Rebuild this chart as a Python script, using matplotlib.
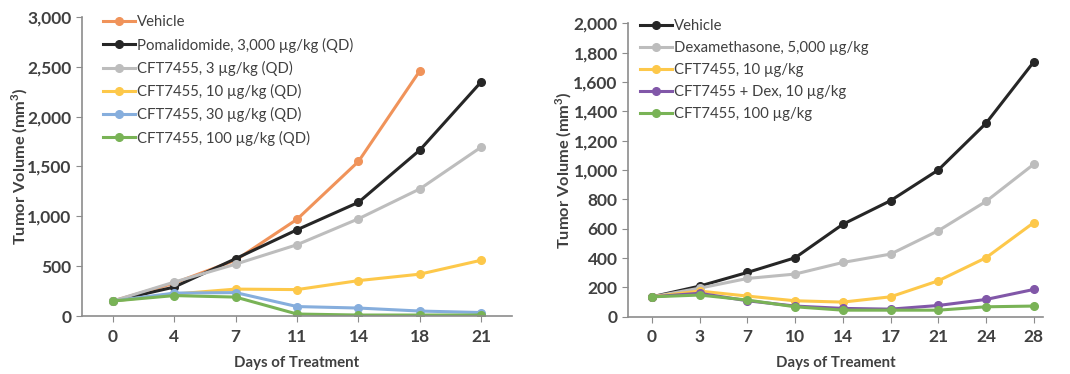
import numpy as np
import matplotlib
matplotlib.use("Agg")
import matplotlib.pyplot as plt
from matplotlib.ticker import FuncFormatter

plt.rcParams['font.family'] = ['Lato', 'DejaVu Sans']

# left panel
days_a = ["0", "4", "7", "11", "14", "18", "21"]
vehicle_a = [150, 330, 560, 970, 1550, 2460]
pomalidomide = [150, 290, 575, 865, 1140, 1665, 2350]
cft_3 = [150, 340, 520, 715, 975, 1275, 1695]
cft_10a = [150, 220, 270, 265, 355, 420, 560]
cft_30 = [150, 230, 235, 95, 80, 50, 35]
cft_100a = [150, 205, 190, 20, 10, 10, 10]

# right panel
days_b = ["0", "3", "7", "10", "14", "17", "21", "24", "28"]
vehicle_b = [136, 209, 302, 402, 630, 791, 1000, 1318, 1736]
dexamethasone = [136, 195, 261, 291, 370, 427, 586, 786, 1039]
cft_10b = [136, 175, 141, 109, 100, 136, 245, 402, 641]
cft_dex = [136, 160, 109, 73, 57, 52, 77, 118, 186]
cft_100b = [136, 148, 114, 68, 45, 45, 45, 68, 73]

series_a = [
    ("Vehicle", vehicle_a, "#F0935A"),
    ("Pomalidomide, 3,000 µg/kg (QD)", pomalidomide, "#262626"),
    ("CFT7455, 3 µg/kg (QD)", cft_3, "#BDBDBD"),
    ("CFT7455, 10 µg/kg (QD)", cft_10a, "#FDC84A"),
    ("CFT7455, 30 µg/kg (QD)", cft_30, "#86AEDD"),
    ("CFT7455, 100 µg/kg (QD)", cft_100a, "#79B356"),
]
series_b = [
    ("Vehicle", vehicle_b, "#262626"),
    ("Dexamethasone, 5,000 µg/kg", dexamethasone, "#BDBDBD"),
    ("CFT7455, 10 µg/kg", cft_10b, "#FDC84A"),
    ("CFT7455 + Dex, 10 µg/kg", cft_dex, "#8157A8"),
    ("CFT7455, 100 µg/kg", cft_100b, "#79B356"),
]

txt = "#404040"
fig = plt.figure(figsize=(10.7, 3.74), dpi=100)
ax1 = fig.add_axes([0.0766, 0.155, 0.402, 0.80])
ax2 = fig.add_axes([0.587, 0.153, 0.388, 0.785])


def draw(ax, days, series, ymax, ystep, xmax, xlabel, legx, legy, ylabx):
    x = np.arange(len(days))
    for name, vals, col in series:
        ax.plot(x[:len(vals)], vals, '-o', color=col, lw=2.2, ms=5.5, label=name)
    ax.set_xlim(-0.5, xmax)
    ax.set_ylim(0, ymax)
    ax.set_xticks(x)
    ax.set_xticklabels(days)
    ax.set_yticks(np.arange(0, ymax + 1, ystep))
    ax.yaxis.set_major_formatter(FuncFormatter(lambda v, p: f"{int(v):,}"))
    for s in ["top", "right"]:
        ax.spines[s].set_visible(False)
    for s in ["left", "bottom"]:
        ax.spines[s].set_color("#8c8c8c")
        ax.spines[s].set_linewidth(1.2)
    ax.tick_params(colors="#8c8c8c", labelcolor=txt, labelsize=12.5, length=4)
    ax.tick_params(axis="x", pad=5)
    for lab in ax.get_xticklabels() + ax.get_yticklabels():
        lab.set_fontweight("bold")
    ax.set_xlabel(xlabel, fontsize=10.8, fontweight="bold", color=txt, labelpad=8)
    ax.set_ylabel("Tumor Volume (mm$^\\mathregular{3}$)", fontsize=11.8,
                  fontweight="bold", color=txt)
    ax.yaxis.set_label_coords(ylabx, 0.5)
    leg = ax.legend(loc="upper left", frameon=False, fontsize=10.7,
                    handlelength=2.2, handletextpad=0.1, labelspacing=0.55,
                    borderaxespad=0.0, borderpad=0.0,
                    bbox_to_anchor=(legx, legy))
    for t in leg.get_texts():
        t.set_color(txt)


draw(ax1, days_a, series_a, 3000, 500, 6.5, "Days of Treatment", 0.048, 1.005, -0.12)
draw(ax2, days_b, series_b, 2000, 200, 8.2, "Days of Treament", 0.028, 1.015, -0.13)

fig.savefig("out.png", dpi=100)
